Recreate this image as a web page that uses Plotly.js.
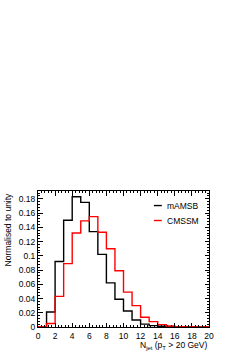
<!DOCTYPE html>
<html>
<head>
<meta charset="utf-8">
<script src="https://cdn.plot.ly/plotly-3.0.1.min.js"></script>
<style>html,body{margin:0;padding:0;background:#fff;}#chart{width:240px;height:355px;}</style>
</head>
<body>
<div id="chart"></div>
<script>
// Bin edges for N_jet histogram (20 unit bins from 0 to 20)
const binEdges = [0,1,2,3,4,5,6,7,8,9,10,11,12,13,14,15,16,17,18,19,20];
// Normalised bin contents
const mAMSB = [0, 0.021, 0.092, 0.150, 0.183, 0.175, 0.134, 0.102, 0.062, 0.039, 0.0225, 0.0098, 0.004, 0.002, 0.001, 0.0004, 0.0002, 0.0001, 0, 0];
const CMSSM = [0, 0.005, 0.043, 0.089, 0.132, 0.149, 0.155, 0.133, 0.110, 0.079, 0.049, 0.030, 0.0136, 0.0075, 0.0033, 0.0014, 0.0005, 0.0002, 0.0001, 0];
const seriesNames = ['mAMSB', 'CMSSM'];
const seriesColors = ['#000000', '#ff0000'];

function stepY(vals){ return vals.concat([vals[vals.length-1]]); }

const traces = [mAMSB, CMSSM].map((vals, i) => ({
  type: 'scatter', mode: 'lines',
  x: binEdges, y: stepY(vals),
  line: {shape: 'hv', color: seriesColors[i], width: 1.4},
  name: seriesNames[i], showlegend: false, cliponaxis: false
}));

const fam = '"Liberation Sans", Arial, Helvetica, sans-serif';
const tickFont = {family: fam, size: 8.5, color: '#000'};
const titleFont = {family: fam, size: 8.5, color: '#000'};
const legFont = {family: fam, size: 8.5, color: '#000'};
const axisCommon = {
  showline: true, linecolor: '#000', linewidth: 1, mirror: 'allticks',
  ticks: 'inside', tickcolor: '#000', showgrid: false, zeroline: false,
  tickfont: tickFont
};
const legY = [0.893, 0.783];
const layout = {
  width: 240, height: 355,
  margin: {l: 38, r: 31, t: 191, b: 28},
  paper_bgcolor: '#fff', plot_bgcolor: '#fff',
  font: tickFont,
  xaxis: Object.assign({}, axisCommon, {
    range: [0, 20], dtick: 2, tick0: 0, ticklen: 4.5, ticklabelstandoff: 1,
    minor: {dtick: 0.4, ticks: 'inside', ticklen: 2.2, tickcolor: '#000', showgrid: false}
  }),
  yaxis: Object.assign({}, axisCommon, {
    range: [0, 0.191], dtick: 0.02, tick0: 0, ticklen: 4.5,
    minor: {dtick: 0.004, ticks: 'inside', ticklen: 2.2, tickcolor: '#000', showgrid: false}
  }),
  shapes: [0, 1].map(i => ({
    type: 'line', xref: 'paper', yref: 'paper',
    x0: 0.678, x1: 0.724, y0: legY[i], y1: legY[i],
    line: {color: seriesColors[i], width: 1.4}
  })),
  annotations: [
    {text: seriesNames[0], xref: 'paper', yref: 'paper', x: 0.74, y: legY[0], xanchor: 'left', yanchor: 'middle', showarrow: false, font: legFont},
    {text: seriesNames[1], xref: 'paper', yref: 'paper', x: 0.74, y: legY[1], xanchor: 'left', yanchor: 'middle', showarrow: false, font: legFont},
    {text: 'Normalised to unity', xref: 'paper', yref: 'paper', x: -0.175, y: 1.005, xanchor: 'center', yanchor: 'top', textangle: -90, showarrow: false, font: titleFont},
    {text: 'N<sub>jet</sub> (p<sub>T</sub> > 20 GeV)', xref: 'paper', yref: 'paper', x: 1.0, y: -0.135, xanchor: 'right', yanchor: 'middle', showarrow: false, font: titleFont}
  ]
};
Plotly.newPlot('chart', traces, layout, {displayModeBar: false, staticPlot: true});
</script>
</body>
</html>
